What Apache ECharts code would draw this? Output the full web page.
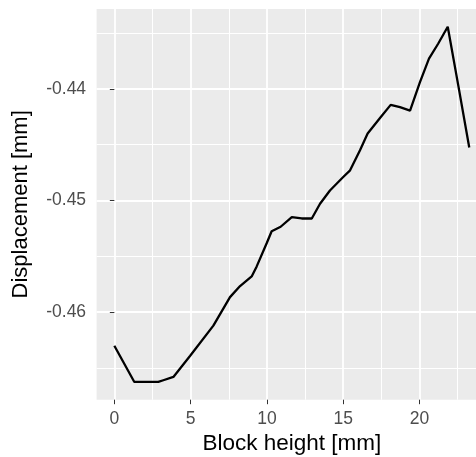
<!DOCTYPE html>
<html>
<head>
<meta charset="utf-8">
<script src="https://cdn.jsdelivr.net/npm/echarts@6/dist/echarts.min.js"></script>
<style>
  html, body { margin: 0; padding: 0; background: #fff; }
  #chart { width: 476px; height: 457px; }
</style>
</head>
<body>
<div id="chart"></div>
<script>
// block height [mm] (x) and displacement [mm] (y)
var blockHeight = [0, 1.31, 2.88, 3.21, 3.87, 4.97, 6.49, 7.58, 8.24, 9.0, 9.33, 9.99, 10.31, 10.9,
  11.63, 12.28, 12.94, 13.48, 14.13, 15.0, 15.45, 16.1, 16.6, 17.45, 18.11, 18.72, 19.38,
  20.03, 20.62, 21.23, 21.85, 22.54, 23.26]
var displacement = [-0.4630, -0.46624, -0.46624, -0.46609, -0.46579, -0.46390, -0.46120, -0.45865,
  -0.45766, -0.45680, -0.45590, -0.45380, -0.45275, -0.45235, -0.45149, -0.45161, -0.45161,
  -0.45029, -0.44910, -0.44790, -0.44730, -0.44550, -0.44400, -0.44255, -0.44144, -0.44165,
  -0.44195, -0.43940, -0.43730, -0.43595, -0.43445, -0.43970, -0.44525]

var xTicks = [0, 5, 10, 15, 20]
var xMinor = [2.5, 7.5, 12.5, 17.5, 22.5]
var yTicks = [-0.46, -0.45, -0.44]
var yMinor = [-0.465, -0.455, -0.445, -0.435]

// ggplot-like 5% expansion of the data range
function expand(arr) {
  var lo = Math.min.apply(null, arr)
  var hi = Math.max.apply(null, arr)
  var pad = (hi - lo) * 0.05
  return [lo - pad, hi + pad]
}
var xLim = expand(blockHeight)
var yLim = expand(displacement)

var points = blockHeight.map(function(x, i) {
  return [x, displacement[i]]
})

var chart = echarts.init(document.getElementById('chart'))

var option = {
  animation: false,
  grid: {
    left: 96.6,
    top: 9,
    width: 390.4,
    height: 390.7,
    show: true,
    backgroundColor: '#EBEBEB',
    borderWidth: 0,
    outerBoundsMode: 'none'
  },
  xAxis: [
    {
      // minor grid lines
      type: 'value',
      min: xLim[0],
      max: xLim[1],
      position: 'bottom',
      axisLine: { show: false },
      axisTick: { show: false, customValues: xMinor },
      axisLabel: { show: false, customValues: xMinor },
      splitLine: { show: true, lineStyle: { color: '#FFFFFF', width: 1 } }
    },
    {
      type: 'value',
      min: xLim[0],
      max: xLim[1],
      position: 'bottom',
      name: 'Block height [mm]',
      nameLocation: 'middle',
      nameGap: 32,
      nameTextStyle: { fontFamily: 'Liberation Sans', fontSize: 22.5, color: '#000' },
      axisLine: { show: false },
      axisTick: {
        show: true,
        customValues: xTicks,
        length: 4.5,
        lineStyle: { color: '#333333', width: 1 }
      },
      axisLabel: {
        customValues: xTicks,
        margin: 10,
        fontFamily: 'Liberation Sans',
        fontSize: 17.5,
        color: '#4D4D4D'
      },
      splitLine: { show: true, lineStyle: { color: '#FFFFFF', width: 1.8 } }
    }
  ],
  yAxis: [
    {
      type: 'value',
      min: yLim[0],
      max: yLim[1],
      position: 'left',
      axisLine: { show: false },
      axisTick: { show: false, customValues: yMinor },
      axisLabel: { show: false, customValues: yMinor },
      splitLine: { show: true, lineStyle: { color: '#FFFFFF', width: 1 } }
    },
    {
      type: 'value',
      min: yLim[0],
      max: yLim[1],
      position: 'left',
      name: 'Displacement [mm]',
      nameLocation: 'middle',
      nameGap: 65,
      nameTextStyle: { fontFamily: 'Liberation Sans', fontSize: 22, color: '#000' },
      axisLine: { show: false },
      axisTick: {
        show: true,
        customValues: yTicks,
        length: 4.5,
        lineStyle: { color: '#333333', width: 1 }
      },
      axisLabel: {
        customValues: yTicks,
        margin: 10.5,
        fontFamily: 'Liberation Sans',
        fontSize: 17.5,
        color: '#4D4D4D',
        formatter: function(v) { return v.toFixed(2) }
      },
      splitLine: { show: true, lineStyle: { color: '#FFFFFF', width: 1.8 } }
    }
  ],
  series: [
    {
      type: 'line',
      xAxisIndex: 1,
      yAxisIndex: 1,
      data: points,
      showSymbol: false,
      symbol: 'none',
      clip: true,
      lineStyle: { color: '#000000', width: 2.3 }
    }
  ]
}

chart.setOption(option)
</script>
</body>
</html>
